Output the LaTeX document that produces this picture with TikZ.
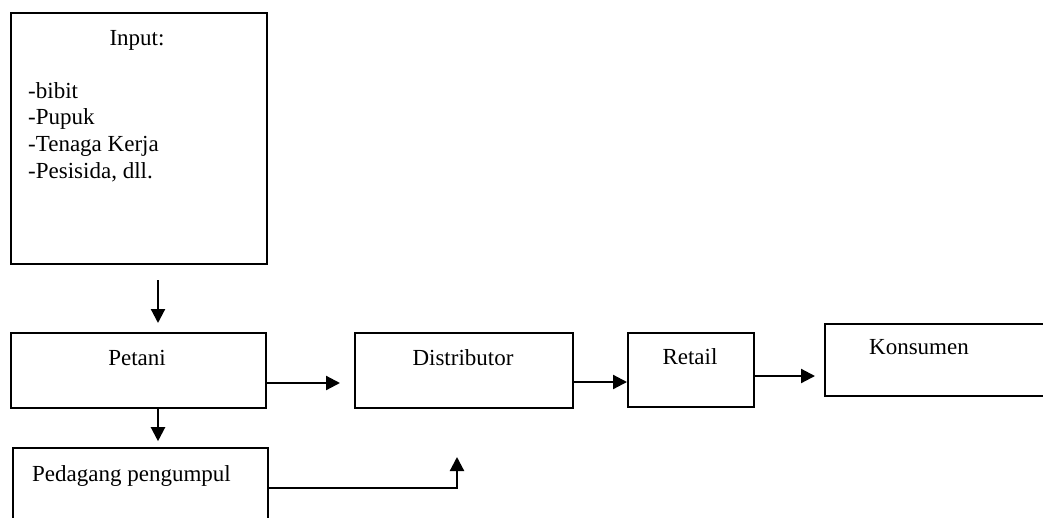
\documentclass[tikz,border=0pt]{standalone}
\usepackage{fontspec}
\setmainfont{Liberation Serif}
\usetikzlibrary{arrows.meta}
\tikzset{
  box/.style={draw, line width=2.2pt, inner sep=0pt, anchor=north west},
  lbl/.style={inner sep=0pt, font=\fontsize{23}{26.7}\selectfont},
  conn/.style={line width=2.2pt, -{Triangle[length=14pt,width=14pt]}},
}
\begin{document}
\begin{tikzpicture}[x=1pt,y=-1pt]
\useasboundingbox (0,0) rectangle (1043,517);
\clip (0,0) rectangle (1043,517);
% boxes
\node[box, minimum width=256pt, minimum height=251pt] (input) at (10,12) {};
\node[box, minimum width=255pt, minimum height=75pt] (petani) at (10,332) {};
\node[box, minimum width=218pt, minimum height=75pt] (dist) at (354,332) {};
\node[box, minimum width=126pt, minimum height=74pt] (retail) at (627,332) {};
\node[box, minimum width=260pt, minimum height=72pt] (kons) at (824,323) {};
\node[box, minimum width=255pt, minimum height=100pt] (peda) at (12,447) {};
% texts
\node[lbl, anchor=base] (tin) at (137,45) {Input:};
\node[lbl, anchor=base west] (t1) at (28,98) {-bibit};
\node[lbl, anchor=base west] (t2) at (28,124.7) {-Pupuk};
\node[lbl, anchor=base west] (t3) at (28,151.4) {-Tenaga Kerja};
\node[lbl, anchor=base west] (t4) at (28,178.1) {-Pesisida, dll.};
\node[lbl, anchor=base] (tpet) at (137,365) {Petani};
\node[lbl, anchor=base] (tdist) at (463,365) {Distributor};
\node[lbl, anchor=base] (tret) at (690,364) {Retail};
\node[lbl, anchor=base] (tkons) at (919,354) {Konsumen};
\node[lbl, anchor=base west] (tped) at (32,481) {Pedagang pengumpul};
% connectors
\coordinate (a0) at (158,280);
\coordinate (a1) at (158,323);
\draw[conn] (a0) -- (a1);
\draw[conn] (petani.south -| a0) -- ++(0,32);
\draw[conn] (petani.east |- 0,383) -- (340,383);
\draw[conn] (dist.east |- 0,382) -- (retail.west |- 0,382);
\draw[conn] (retail.east |- 0,376) -- (815,376);
\coordinate (c1) at (457,488);
\draw[conn] (peda.east |- c1) -- (c1) -- (457,457);
\end{tikzpicture}
\end{document}
